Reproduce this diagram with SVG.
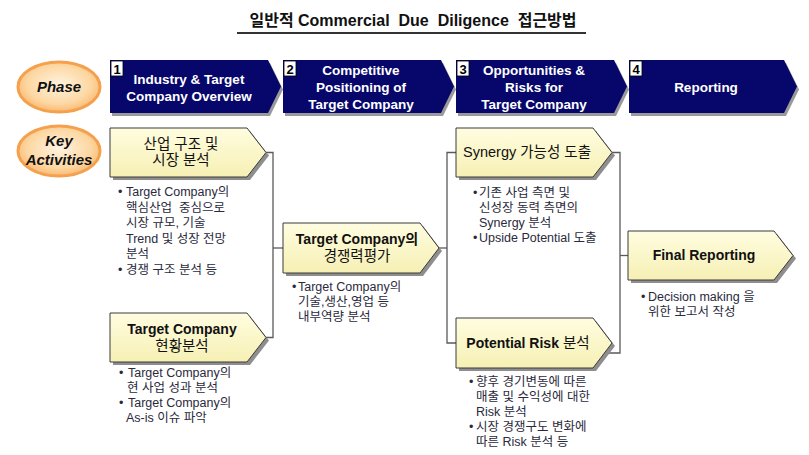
<svg xmlns="http://www.w3.org/2000/svg" width="809" height="455" viewBox="0 0 809 455">
<defs>
<style>
text{font-family:"Liberation Sans","Noto Sans CJK KR",sans-serif;}
.title{font-size:16px;font-weight:bold;fill:#111;}
.chev{fill:#07076b;}
.chsh{fill:#9a9a9a;}
.chtxt{font-size:13.5px;font-weight:bold;fill:#fff;text-anchor:middle;}
.numbox{fill:#fff;stroke:#000;stroke-width:0.8;}
.num{font-size:13px;font-weight:bold;fill:#000;text-anchor:middle;}
.oval{fill:url(#og);stroke:#f4a04c;stroke-width:3;}
.ovtxt{font-size:15px;font-weight:bold;font-style:italic;fill:#111;text-anchor:middle;}
.box{fill:url(#yg);stroke:#3a3a3a;stroke-width:1;}
.bsh{fill:#8e8e8e;}
.btxt{font-size:14.5px;fill:#111;text-anchor:middle;}
.b{font-weight:bold;font-size:14px;}
.bul{font-size:12.5px;fill:#2a2a3c;white-space:pre;}
.conn{fill:none;stroke:#5a5a5a;stroke-width:1.3;}
</style>
<linearGradient id="yg" x1="0" y1="0" x2="0" y2="1">
<stop offset="0" stop-color="#fffde0"/>
<stop offset="1" stop-color="#f6f0b4"/>
</linearGradient>
<radialGradient id="og" cx="0.5" cy="0.45" r="0.6">
<stop offset="0" stop-color="#fff3df"/>
<stop offset="0.65" stop-color="#fdd7a2"/>
<stop offset="1" stop-color="#f8b062"/>
</radialGradient>
</defs>

<g id="title">
<text class="title" x="413" y="26" text-anchor="middle" style="white-space:pre">일반적 Commercial  Due  Diligence  접근방법</text>
<line x1="237" y1="33" x2="586" y2="33" stroke="#333" stroke-width="1.8"/>
</g>

<g id="phase-label">
<ellipse class="oval" cx="59" cy="87" rx="41" ry="25"/>
<text class="ovtxt" x="59" y="92">Phase</text>
</g>
<g id="key-label">
<ellipse class="oval" cx="59" cy="151" rx="41" ry="25"/>
<text class="ovtxt" x="59" y="146">Key</text>
<text class="ovtxt" x="59" y="165">Activities</text>
</g>

<g id="phase1">
<polygon class="chsh" points="112,63 270,63 283,89.5 270,116 112,116"/>
<polygon class="chev" points="110,60 268,60 281,86.5 268,113 110,113"/>
<rect class="numbox" x="111" y="61" width="12" height="15"/>
<text class="num" x="117" y="74">1</text>
<text class="chtxt" x="189" y="84">Industry &amp; Target</text>
<text class="chtxt" x="189" y="101">Company Overview</text>
</g>
<g id="phase2">
<polygon class="chsh" points="285,63 443,63 456,89.5 443,116 285,116"/>
<polygon class="chev" points="283,60 441,60 454,86.5 441,113 283,113"/>
<rect class="numbox" x="284" y="61" width="12" height="15"/>
<text class="num" x="290" y="74">2</text>
<text class="chtxt" x="361" y="75">Competitive</text>
<text class="chtxt" x="361" y="92">Positioning of</text>
<text class="chtxt" x="361" y="109">Target Company</text>
</g>
<g id="phase3">
<polygon class="chsh" points="458,63 616,63 629,89.5 616,116 458,116"/>
<polygon class="chev" points="456,60 614,60 627,86.5 614,113 456,113"/>
<rect class="numbox" x="457" y="61" width="12" height="15"/>
<text class="num" x="463" y="74">3</text>
<text class="chtxt" x="534" y="75">Opportunities &amp;</text>
<text class="chtxt" x="534" y="92">Risks for</text>
<text class="chtxt" x="534" y="109">Target Company</text>
</g>
<g id="phase4">
<polygon class="chsh" points="631,63 786,63 799,89.5 786,116 631,116"/>
<polygon class="chev" points="629,60 784,60 797,86.5 784,113 629,113"/>
<rect class="numbox" x="630" y="61" width="12" height="15"/>
<text class="num" x="636" y="74">4</text>
<text class="chtxt" x="706" y="92">Reporting</text>
</g>

<g id="connectors">
<path class="conn" d="M266,152.5 H273 V337.5 H266"/>
<path class="conn" d="M273,248 H283"/>
<path class="conn" d="M439,248 H447"/>
<path class="conn" d="M456,152.5 H447 V343 H456"/>
<path class="conn" d="M612,152.5 H620 V353 H605"/>
<path class="conn" d="M620,255.5 H628"/>
</g>

<g id="act-market">
<polygon class="bsh" points="113,131 250,131 269,155.5 250,180 113,180"/>
<polygon class="box" points="110,128 247,128 266,152.5 247,177 110,177"/>
<text class="btxt" x="181" y="149">산업 구조 및</text>
<text class="btxt" x="181" y="165">시장 분석</text>
<text class="bul" x="118" y="196">•</text>
<text class="bul" x="126" y="196">Target Company의</text>
<text class="bul" x="126" y="211.5">핵심산업  중심으로</text>
<text class="bul" x="126" y="227">시장 규모, 기술</text>
<text class="bul" x="126" y="242.5">Trend 및 성장 전망</text>
<text class="bul" x="126" y="258">분석</text>
<text class="bul" x="118" y="273.5">•</text>
<text class="bul" x="126" y="273.5">경쟁 구조 분석 등</text>
</g>

<g id="act-current">
<polygon class="bsh" points="113,316 250,316 269,340.5 250,365 113,365"/>
<polygon class="box" points="110,313 247,313 266,337.5 247,362 110,362"/>
<text class="btxt b" x="182" y="334">Target Company</text>
<text class="btxt" x="182" y="351">현황분석</text>
<text class="bul" x="119" y="377">•</text>
<text class="bul" x="128" y="377">Target Company의</text>
<text class="bul" x="127" y="392">현 사업 성과 분석</text>
<text class="bul" x="119" y="407">•</text>
<text class="bul" x="128" y="407">Target Company의</text>
<text class="bul" x="126" y="422">As-is 이슈 파악</text>
</g>

<g id="act-competitive">
<polygon class="bsh" points="286,226 423,226 442,251 423,276 286,276"/>
<polygon class="box" points="283,223 420,223 439,248 420,273 283,273"/>
<text class="btxt b" x="357" y="244">Target Company의</text>
<text class="btxt" x="357" y="261">경쟁력평가</text>
<text class="bul" x="292" y="291">•</text>
<text class="bul" x="298" y="291">Target Company의</text>
<text class="bul" x="298" y="306">기술,생산,영업 등</text>
<text class="bul" x="298" y="321">내부역량 분석</text>
</g>

<g id="act-synergy">
<polygon class="bsh" points="459,131 596,131 615,155.5 596,180 459,180"/>
<polygon class="box" points="456,128 593,128 612,152.5 593,177 456,177"/>
<text class="btxt" x="527" y="157">Synergy 가능성 도출</text>
<text class="bul" x="473" y="197">•</text>
<text class="bul" x="479" y="197">기존 사업 측면 및</text>
<text class="bul" x="479" y="212">신성장 동력 측면의</text>
<text class="bul" x="479" y="227">Synergy 분석</text>
<text class="bul" x="473" y="242">•</text>
<text class="bul" x="479" y="242">Upside Potential 도출</text>
</g>

<g id="act-risk">
<polygon class="bsh" points="459,321 596,321 615,346 596,371 459,371"/>
<polygon class="box" points="456,318 593,318 612,343 593,368 456,368"/>
<text class="btxt" x="528" y="348"><tspan class="b">Potential Risk</tspan> 분석</text>
<text class="bul" x="469" y="386">•</text>
<text class="bul" x="476" y="386">향후 경기변동에 따른</text>
<text class="bul" x="476" y="401">매출 및 수익성에 대한</text>
<text class="bul" x="476" y="416">Risk 분석</text>
<text class="bul" x="469" y="431">•</text>
<text class="bul" x="476" y="431">시장 경쟁구도 변화에</text>
<text class="bul" x="476" y="446">따른 Risk 분석 등</text>
</g>

<g id="act-final">
<polygon class="bsh" points="631,234 777,234 796,258.5 777,283 631,283"/>
<polygon class="box" points="628,231 774,231 793,255.5 774,280 628,280"/>
<text class="btxt b" x="704" y="260">Final Reporting</text>
<text class="bul" x="641" y="301">•</text>
<text class="bul" x="648" y="301">Decision making 을</text>
<text class="bul" x="648" y="316">위한 보고서 작성</text>
</g>
</svg>
